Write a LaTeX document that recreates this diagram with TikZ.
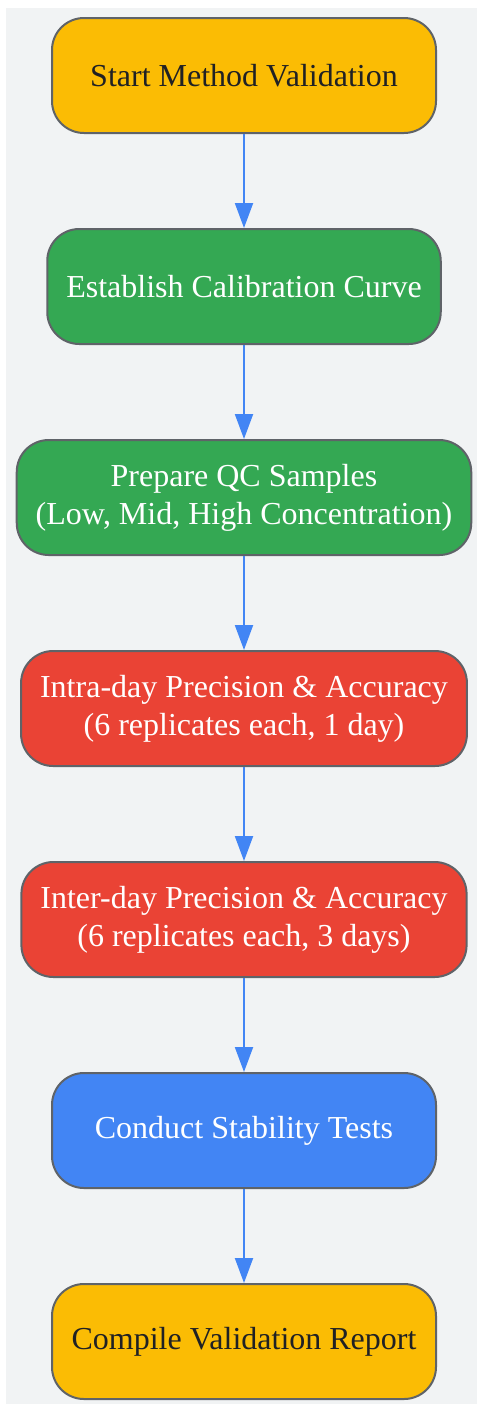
\documentclass[tikz,border=0pt]{standalone}
\usepackage{fontspec}
\setmainfont{Liberation Serif}
\usetikzlibrary{shapes.geometric,arrows.meta}
\definecolor{bgray}{HTML}{F1F3F4}
\definecolor{edge}{HTML}{5F6368}
\definecolor{gyellow}{HTML}{FBBC04}
\definecolor{ggreen}{HTML}{34A853}
\definecolor{gred}{HTML}{EA4335}
\definecolor{gblue}{HTML}{4285F4}
\definecolor{darktext}{HTML}{202124}
\tikzstyle{stage} = [rectangle, rounded corners=16pt, minimum width=192pt, minimum height=57.5pt, inner xsep=9.5pt, align=center, draw=edge, line width=1pt, font=\fontsize{16}{19}\selectfont]
\tikzstyle{milestone} = [stage, fill=gyellow, text=darktext]
\tikzstyle{prep} = [stage, fill=ggreen, text=white]
\tikzstyle{precision} = [stage, fill=gred, text=white]
\tikzstyle{stability} = [stage, fill=gblue, text=white]
\tikzstyle{arrow} = [line width=1pt, draw=gblue, -{Triangle[width=9pt,length=12.5pt]}, gblue]

\begin{document}
\begin{tikzpicture}[node distance=105.5pt]
\useasboundingbox (0,0) rectangle (238.5pt,-702pt);
\fill[bgray] (3pt,-4pt) rectangle (238.5pt,-702pt);

\node (StartVal)[milestone] at (122pt,-37.75pt) {Start Method Validation};
\node (CalCurve)[prep, below of=StartVal]{Establish Calibration Curve};
\node (QCSamples)[prep, below of=CalCurve]{Prepare QC Samples\\(Low, Mid, High Concentration)};
\node (IntraDay)[precision, below of=QCSamples]{Intra-day Precision \& Accuracy\\(6 replicates each, 1 day)};
\node (InterDay)[precision, below of=IntraDay]{Inter-day Precision \& Accuracy\\(6 replicates each, 3 days)};
\node (Stability)[stability, below of=InterDay]{Conduct Stability Tests};
\node (Report)[milestone, below of=Stability]{Compile Validation Report};

\draw [arrow](StartVal) -- (CalCurve);
\draw [arrow](CalCurve) -- (QCSamples);
\draw [arrow](QCSamples) -- (IntraDay);
\draw [arrow](IntraDay) -- (InterDay);
\draw [arrow](InterDay) -- (Stability);
\draw [arrow](Stability) -- (Report);
\end{tikzpicture}
\end{document}
